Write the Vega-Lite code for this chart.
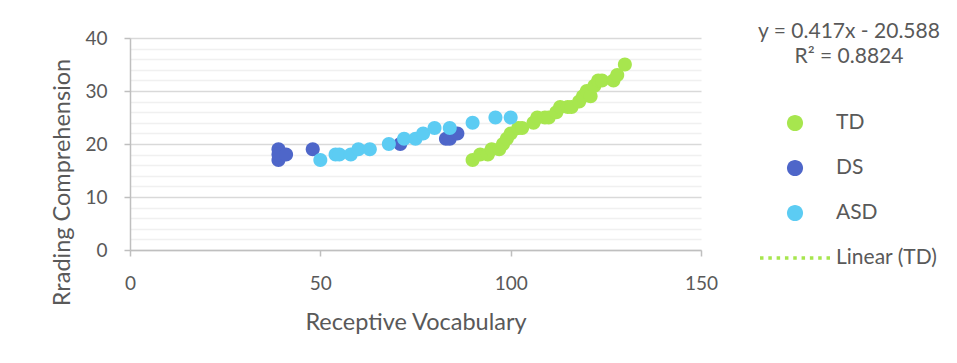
{
  "$schema": "https://vega.github.io/schema/vega-lite/v6.json",
  "width": 571,
  "height": 212,
  "autosize": {"type": "none"},
  "padding": {"left": 130, "top": 38, "right": 256, "bottom": 113},
  "background": "white",
  "config": {"font": "Lato", "view": {"stroke": null}},
  "datasets": {
    "pts": [
      {"group": "TD", "rv": 90, "rc": 17},
      {"group": "TD", "rv": 92, "rc": 18},
      {"group": "TD", "rv": 94, "rc": 18},
      {"group": "TD", "rv": 95, "rc": 19},
      {"group": "TD", "rv": 97, "rc": 19},
      {"group": "TD", "rv": 98, "rc": 20},
      {"group": "TD", "rv": 99, "rc": 21},
      {"group": "TD", "rv": 100, "rc": 22},
      {"group": "TD", "rv": 102, "rc": 23},
      {"group": "TD", "rv": 103, "rc": 23},
      {"group": "TD", "rv": 106, "rc": 24},
      {"group": "TD", "rv": 107, "rc": 25},
      {"group": "TD", "rv": 109, "rc": 25},
      {"group": "TD", "rv": 110, "rc": 25},
      {"group": "TD", "rv": 112, "rc": 26},
      {"group": "TD", "rv": 113, "rc": 27},
      {"group": "TD", "rv": 115, "rc": 27},
      {"group": "TD", "rv": 116, "rc": 27},
      {"group": "TD", "rv": 118, "rc": 28},
      {"group": "TD", "rv": 119, "rc": 29},
      {"group": "TD", "rv": 120, "rc": 30},
      {"group": "TD", "rv": 121, "rc": 29},
      {"group": "TD", "rv": 122, "rc": 31},
      {"group": "TD", "rv": 123, "rc": 32},
      {"group": "TD", "rv": 124, "rc": 32},
      {"group": "TD", "rv": 127, "rc": 32},
      {"group": "TD", "rv": 128, "rc": 33},
      {"group": "TD", "rv": 130, "rc": 35},
      {"group": "DS", "rv": 39, "rc": 19},
      {"group": "DS", "rv": 39, "rc": 17},
      {"group": "DS", "rv": 39, "rc": 18},
      {"group": "DS", "rv": 41, "rc": 18},
      {"group": "DS", "rv": 48, "rc": 19},
      {"group": "DS", "rv": 71, "rc": 20},
      {"group": "DS", "rv": 83, "rc": 21},
      {"group": "DS", "rv": 84, "rc": 21},
      {"group": "DS", "rv": 86, "rc": 22},
      {"group": "ASD", "rv": 50, "rc": 17},
      {"group": "ASD", "rv": 54, "rc": 18},
      {"group": "ASD", "rv": 55, "rc": 18},
      {"group": "ASD", "rv": 58, "rc": 18},
      {"group": "ASD", "rv": 60, "rc": 19},
      {"group": "ASD", "rv": 63, "rc": 19},
      {"group": "ASD", "rv": 68, "rc": 20},
      {"group": "ASD", "rv": 72, "rc": 21},
      {"group": "ASD", "rv": 75, "rc": 21},
      {"group": "ASD", "rv": 77, "rc": 22},
      {"group": "ASD", "rv": 80, "rc": 23},
      {"group": "ASD", "rv": 84, "rc": 23},
      {"group": "ASD", "rv": 90, "rc": 24},
      {"group": "ASD", "rv": 96, "rc": 25},
      {"group": "ASD", "rv": 100, "rc": 25}
    ]
  },
  "data": {"name": "pts"},
  "encoding": {
    "x": {
      "field": "rv",
      "type": "quantitative",
      "scale": {"domain": [0, 150], "nice": false, "zero": false},
      "axis": {
        "values": [0, 50, 100, 150],
        "grid": false,
        "domainColor": "#bfbfbf",
        "domainWidth": 1.5,
        "tickColor": "#bfbfbf",
        "tickWidth": 1.5,
        "tickSize": 6,
        "labelColor": "#595959",
        "labelFontSize": 19,
        "labelPadding": 18,
        "labelFlush": false,
        "title": "Receptive Vocabulary",
        "titleFontSize": 23.5,
        "titleFontWeight": "normal",
        "titleColor": "#595959",
        "titleBaseline": "middle",
        "titleY": 72
      }
    },
    "y": {
      "field": "rc",
      "type": "quantitative",
      "scale": {"domain": [0, 40], "nice": false},
      "axis": {
        "values": [0, 2, 4, 6, 8, 10, 12, 14, 16, 18, 20, 22, 24, 26, 28, 30, 32, 34, 36, 38, 40],
        "labelExpr": "datum.value % 10 === 0 ? datum.label : ''",
        "gridColor": {"condition": {"test": "datum.value % 10 === 0", "value": "#d9d9d9"}, "value": "#f0f0f0"},
        "gridWidth": 1.3,
        "tickOpacity": {"condition": {"test": "datum.value % 10 === 0", "value": 1}, "value": 0},
        "domainColor": "#bfbfbf",
        "domainWidth": 1.5,
        "tickColor": "#bfbfbf",
        "tickWidth": 1.5,
        "tickSize": 6,
        "labelColor": "#595959",
        "labelFontSize": 19,
        "labelPadding": 17,
        "labelFlush": false,
        "title": "Rrading Comprehension",
        "titleFontSize": 23.5,
        "titleFontWeight": "normal",
        "titleColor": "#595959",
        "titleAngle": -90,
        "titleBaseline": "middle",
        "titleX": -68,
        "titleY": 144
      }
    }
  },
  "layer": [
    {
      "transform": [
        {"filter": "datum.group === 'TD'"},
        {"regression": "rc", "on": "rv"}
      ],
      "mark": {"type": "line", "color": "#A7E64E", "strokeDash": [3.5, 5], "strokeWidth": 3}
    },
    {
      "mark": {"type": "point", "filled": true, "size": 3700, "opacity": 1, "strokeWidth": 0},
      "encoding": {
        "color": {
          "field": "group",
          "type": "nominal",
          "sort": null,
          "scale": {
            "domain": ["TD", "DS", "ASD", "Linear (TD)"],
            "range": ["#A7E64E", "#4E66C9", "#5CCCF3", "#A7E64E"]
          },
          "legend": {
            "title": ["y = 0.417x - 20.588", "R² = 0.8824"],
            "orient": "none",
            "legendX": 628,
            "legendY": -17,
            "padding": 0,
            "titleFontSize": 21,
            "titleFontWeight": "normal",
            "titleColor": "#595959",
            "titleLineHeight": 25,
            "titleAlign": "center",
            "titleAnchor": "middle",
            "titleLimit": 400,
            "titlePadding": 21,
            "labelFontSize": 21,
            "labelColor": "#595959",
            "labelOffset": 6,
            "rowPadding": 0,
            "symbolSize": 4900,
            "symbolStrokeWidth": 0,
            "symbolOpacity": 1
          }
        },
        "shape": {
          "field": "group",
          "type": "nominal",
          "sort": null,
          "scale": {
            "domain": ["TD", "DS", "ASD", "Linear (TD)"],
            "range": [
              "M-0.23,0a0.23,0.23 0 1,0 0.46,0a0.23,0.23 0 1,0 -0.46,0Z",
              "M-0.23,0a0.23,0.23 0 1,0 0.46,0a0.23,0.23 0 1,0 -0.46,0Z",
              "M-0.23,0a0.23,0.23 0 1,0 0.46,0a0.23,0.23 0 1,0 -0.46,0Z",
              "M-1,-0.05h0.1v0.1h-0.1Z M-0.7625,-0.05h0.1v0.1h-0.1Z M-0.525,-0.05h0.1v0.1h-0.1Z M-0.2875,-0.05h0.1v0.1h-0.1Z M-0.05,-0.05h0.1v0.1h-0.1Z M0.1875,-0.05h0.1v0.1h-0.1Z M0.425,-0.05h0.1v0.1h-0.1Z M0.6625,-0.05h0.1v0.1h-0.1Z M0.9,-0.05h0.1v0.1h-0.1Z"
            ]
          },
          "legend": {
            "title": ["y = 0.417x - 20.588", "R² = 0.8824"],
            "orient": "none",
            "legendX": 628,
            "legendY": -17,
            "padding": 0,
            "titleFontSize": 21,
            "titleFontWeight": "normal",
            "titleColor": "#595959",
            "titleLineHeight": 25,
            "titleAlign": "center",
            "titleAnchor": "middle",
            "titleLimit": 400,
            "titlePadding": 21,
            "labelFontSize": 21,
            "labelColor": "#595959",
            "labelOffset": 6,
            "rowPadding": 0,
            "symbolSize": 4900,
            "symbolStrokeWidth": 0,
            "symbolOpacity": 1
          }
        }
      }
    }
  ]
}
